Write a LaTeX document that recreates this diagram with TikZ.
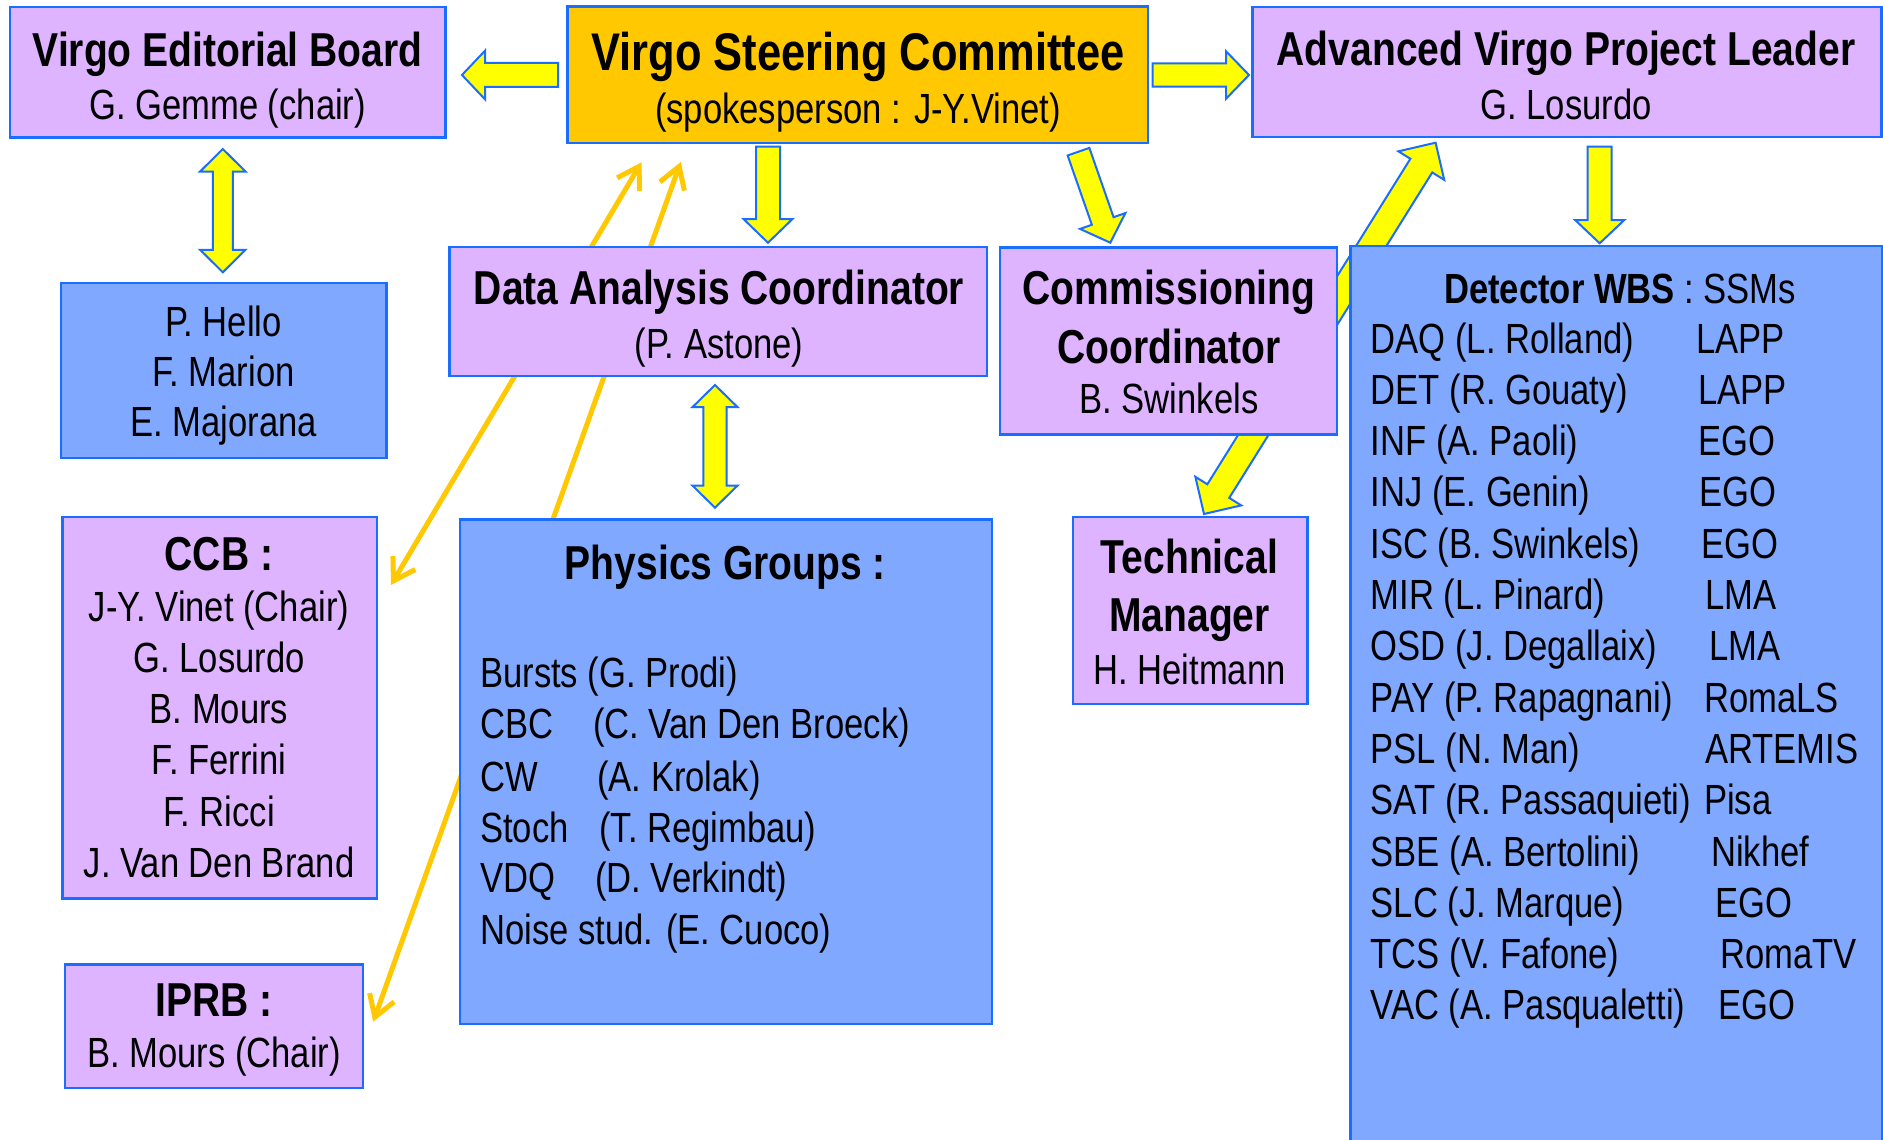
\documentclass[tikz,border=0pt]{standalone}
\usepackage{fontspec}
\setmainfont{Liberation Sans}[FakeStretch=0.82]
\usetikzlibrary{calc,arrows.meta}
\definecolor{lav}{RGB}{222,179,255}
\definecolor{pblue}{RGB}{128,168,255}
\definecolor{bord}{RGB}{26,110,255}
\definecolor{gold}{RGB}{255,200,0}
\definecolor{yel}{RGB}{255,255,0}
\newcommand{\ttlf}{\fontsize{47.6}{57}\selectfont\bfseries}
\newcommand{\bigttlf}{\fontsize{53}{64}\selectfont\bfseries}
\newcommand{\bodyf}{\fontsize{42.2}{50}\selectfont}
\newcommand{\sarrow}[5]{%
  \coordinate (tmpH) at ($(#2)!#5pt!(#1)$);
  \draw[blockarr] ($(#1)!#3pt!90:(#2)$) -- ($(tmpH)!#3pt!90:(#2)$) -- ($(tmpH)!#4pt!90:(#2)$) -- (#2)
    -- ($(tmpH)!#4pt!-90:(#2)$) -- ($(tmpH)!#3pt!-90:(#2)$) -- ($(#1)!#3pt!-90:(#2)$) -- cycle;}
\newcommand{\darrow}[5]{%
  \coordinate (tmpA) at ($(#1)!#5pt!(#2)$);
  \coordinate (tmpB) at ($(#2)!#5pt!(#1)$);
  \draw[blockarr] (#1) -- ($(tmpA)!#4pt!90:(#2)$) -- ($(tmpA)!#3pt!90:(#2)$) -- ($(tmpB)!#3pt!90:(#2)$)
    -- ($(tmpB)!#4pt!90:(#2)$) -- (#2) -- ($(tmpB)!#4pt!-90:(#2)$) -- ($(tmpB)!#3pt!-90:(#2)$)
    -- ($(tmpA)!#3pt!-90:(#2)$) -- ($(tmpA)!#4pt!-90:(#2)$) -- cycle;}
\pgfdeclarelayer{background}
\pgfsetlayers{background,main}
\begin{document}
\begin{tikzpicture}[x=1pt,y=-1pt,
  box/.style={draw=bord, line width=2.4pt, inner sep=0pt, rectangle},
  lbox/.style={box, fill=lav},
  bbox/.style={box, fill=pblue},
  obox/.style={box, fill=gold},
  blockarr/.style={fill=yel, draw=bord, line width=2pt, line join=miter},
  goldln/.style={draw=gold, line width=5pt, >={Straight Barb[length=21pt,width=26pt]}, <->},
  ttl/.style={anchor=base, inner sep=0pt, font=\ttlf},
  bttl/.style={anchor=base, inner sep=0pt, font=\bigttlf},
  txt/.style={anchor=base, inner sep=0pt, font=\bodyf},
  ltxt/.style={anchor=base west, inner sep=0pt, font=\bodyf}]
\useasboundingbox (0,0) rectangle (1883,1140);

% ---------- background layer ----------
\begin{pgfonlayer}{background}
\fill[white] (0,0) rectangle (1883,1140);
\coordinate (o1a) at (641.5,162.3);
\coordinate (o1b) at (391,585);
\coordinate (o2a) at (680.8,162);
\coordinate (o2b) at (373.2,1021.7);
\draw[goldln] (o1a) -- (o1b);
\draw[goldln] (o2a) -- (o2b);
\coordinate (dTa) at (1204,514);
\coordinate (dTb) at (1435.6,142.7);
\darrow{dTa}{dTb}{12.9}{27}{27}
\end{pgfonlayer}

% ---------- boxes ----------
\node[lbox, minimum width=435.7pt, minimum height=130pt] (ed) at (227.65,72.3) {};
\node[obox, minimum width=580.6pt, minimum height=136pt] (sc) at (857.7,74.7) {};
\node[lbox, minimum width=629.3pt, minimum height=129.4pt] (pl) at (1567,72) {};
\node[bbox, minimum width=325.9pt, minimum height=175pt] (hello) at (223.65,370.2) {};
\node[lbox, minimum width=314.7pt, minimum height=381.6pt] (ccb) at (219.85,707.5) {};
\node[lbox, minimum width=297.8pt, minimum height=123.4pt] (iprb) at (214.1,1026) {};
\node[lbox, minimum width=537.5pt, minimum height=129.3pt] (dac) at (718.35,311.35) {};
\node[bbox, minimum width=532.1pt, minimum height=504.5pt] (phys) at (725.75,771.75) {};
\node[lbox, minimum width=337pt, minimum height=187pt] (comm) at (1168.5,340.8) {};
\node[lbox, minimum width=234.6pt, minimum height=187.3pt] (tm) at (1190,610.35) {};
\node[bbox, minimum width=531.5pt, minimum height=914pt] (det) at (1616.25,703) {};

% ---------- yellow block arrows ----------
\coordinate (aLt) at (558,75);     \coordinate (aLh) at (462,75);
\sarrow{aLt}{aLh}{12}{24.3}{23}
\coordinate (aRt) at (1152.7,75);  \coordinate (aRh) at (1249,75);
\sarrow{aRt}{aRh}{11.7}{23.8}{23}
\coordinate (aDt) at (768,146.7);  \coordinate (aDh) at (768,242.7);
\sarrow{aDt}{aDh}{12}{24.5}{23.7}
\coordinate (aCt) at (1078.5,151.7); \coordinate (aCh) at (1110.3,242.7);
\sarrow{aCt}{aCh}{11.5}{24}{23}
\coordinate (aPt) at (1599.7,146.7); \coordinate (aPh) at (1599.7,243.3);
\sarrow{aPt}{aPh}{12}{24.6}{23.3}
\coordinate (dEa) at (222.8,149);  \coordinate (dEb) at (222.8,272.3);
\darrow{dEa}{dEb}{10}{22.7}{22.5}
\coordinate (dDa) at (715,385);    \coordinate (dDb) at (715,507.7);
\darrow{dDa}{dDb}{11.6}{22.6}{22.2}

% ---------- texts ----------
\node[ttl] (edT) at (227.6,66.7) {Virgo Editorial Board};
\node[txt] (edS) at (227.6,119.3) {G. Gemme (chair)};
\node[bttl] (scT) at (858,70.7) {Virgo Steering Committee};
\node[txt] (scS) at (858,123.3) {(spokesperson : J-Y.Vinet)};
\node[ttl] (plT) at (1566,66) {Advanced Virgo Project Leader};
\node[txt] (plS) at (1566,119.3) {G. Losurdo};

\node[txt] (h1) at (223.5,336) {P. Hello};
\node[txt] (h2) at (223.5,386.7) {F. Marion};
\node[txt] (h3) at (223.5,436.7) {E. Majorana};

\node[ttl] (ccbT) at (219,570) {CCB :};
\foreach \i/\t in {1/J-Y. Vinet (Chair),2/G. Losurdo,3/B. Mours,4/F. Ferrini,5/F. Ricci,6/J. Van Den Brand}
  \node[txt] (ccb\i) at (219,{570+\i*51.2}) {\t};

\node[ttl] (iprbT) at (214,1016.7) {IPRB :};
\node[txt] (iprbS) at (214,1067.7) {B. Mours (Chair)};

\node[ttl] (dacT) at (719,304) {Data Analysis Coordinator};
\node[txt] (dacS) at (719,358) {(P. Astone)};

\node[ttl] (commT1) at (1169,304) {Commissioning};
\node[ttl] (commT2) at (1169,363.3) {Coordinator};
\node[txt] (commS) at (1169,413.3) {B. Swinkels};

\node[ttl] (tmT1) at (1189.5,573.3) {Technical};
\node[ttl] (tmT2) at (1189.5,631.7) {Manager};
\node[txt] (tmS) at (1189.5,684) {H. Heitmann};

\node[ttl] (physT) at (725.4,579.3) {Physics Groups :};
\node[ltxt] (p1) at (480,687.5) {Bursts (G. Prodi)};
\node[ltxt] (p2a) at (480,738.6) {CBC};
\node[ltxt] (p2b) at (593,738.6) {(C. Van Den Broeck)};
\node[ltxt] (p3a) at (480,791) {CW};
\node[ltxt] (p3b) at (597,791) {(A. Krolak)};
\node[ltxt] (p4a) at (480,842.9) {Stoch};
\node[ltxt] (p4b) at (599,842.9) {(T. Regimbau)};
\node[ltxt] (p5a) at (480,892.9) {VDQ};
\node[ltxt] (p5b) at (595,892.9) {(D. Verkindt)};
\node[ltxt] (p6) at (480,944) {Noise stud. (E. Cuoco)};

\node[ltxt] (detT) at (1444,303) {\bfseries Detector WBS\mdseries{} : SSMs};
\foreach \i/\a/\b/\bx in {0/DAQ (L. Rolland)/LAPP/1696,
  1/DET (R. Gouaty)/LAPP/1698,
  2/INF (A. Paoli)/EGO/1698,
  3/INJ (E. Genin)/EGO/1699,
  4/ISC (B. Swinkels)/EGO/1701.5,
  5/MIR (L. Pinard)/LMA/1705,
  6/OSD (J. Degallaix)/LMA/1709,
  7/PAY (P. Rapagnani)/RomaLS/1704,
  8/PSL (N. Man)/ARTEMIS/1705,
  9/SAT (R. Passaquieti)/Pisa/1704,
  10/SBE (A. Bertolini)/Nikhef/1711,
  11/SLC (J. Marque)/EGO/1715.5,
  12/TCS (V. Fafone)/RomaTV/1720,
  13/VAC (A. Pasqualetti)/EGO/1718.5}
{
  \node[ltxt] (dl\i) at (1370.5,{353+\i*51.3}) {\a};
  \node[ltxt] (dr\i) at (\bx,{353+\i*51.3}) {\b};
}
\end{tikzpicture}
\end{document}
